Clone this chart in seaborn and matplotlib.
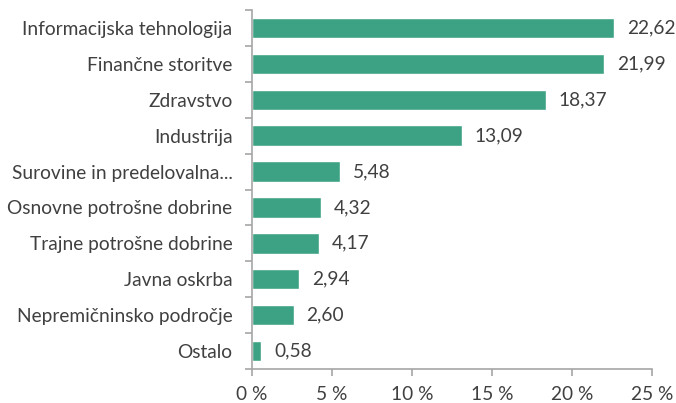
import matplotlib
matplotlib.use('Agg')
import matplotlib.pyplot as plt
import pandas as pd
import numpy as np
import seaborn as sns

sectors = ['Informacijska tehnologija', 'Finančne storitve', 'Zdravstvo', 'Industrija',
           'Surovine in predelovalna...', 'Osnovne potrošne dobrine', 'Trajne potrošne dobrine',
           'Javna oskrba', 'Nepremičninsko področje', 'Ostalo']
shares = [22.62, 21.99, 18.37, 13.09, 5.48, 4.32, 4.17, 2.94, 2.60, 0.58]
xticks = [0, 5, 10, 15, 20, 25]

sns.set_style('white')
plt.rcParams['font.family'] = ['Lato', 'DejaVu Sans']
txt = '#404040'
grey = '#a6a6a6'
fs = 13.8

df = pd.DataFrame({'sektor': sectors, 'delez': shares})

fig = plt.figure(figsize=(6.76, 4.03), dpi=100)
ax = fig.add_axes([0.3728, 0.0844, 0.592, 0.8906])
sns.barplot(data=df, x='delez', y='sektor', color='#3da283', saturation=1,
            width=0.57, ax=ax)

for i, v in enumerate(shares):
    ax.text(v + 0.8, i, f'{v:.2f}'.replace('.', ','), va='center', ha='left',
            fontsize=fs, color=txt)

ax.set_xlim(0, 25)
ax.set_ylim(9.5, -0.5)
ax.set_xticks(xticks)
ax.set_xticklabels([f'{t} %' for t in xticks])
ax.set_xlabel('')
ax.set_ylabel('')

ax.set_yticks(np.arange(-0.5, 10, 1), minor=True)
ax.tick_params(axis='y', which='major', length=0, pad=14, labelsize=fs, labelcolor=txt)
ax.tick_params(axis='y', which='minor', length=5, color=grey, width=1.2, left=True)
ax.tick_params(axis='x', which='major', length=5, color=grey, width=1.2, bottom=True,
               labelsize=fs, labelcolor=txt, pad=7)

for s in ['top', 'right']:
    ax.spines[s].set_visible(False)
for s in ['left', 'bottom']:
    ax.spines[s].set_color(grey)
    ax.spines[s].set_linewidth(1.2)

fig.savefig('out.png', dpi=100)
